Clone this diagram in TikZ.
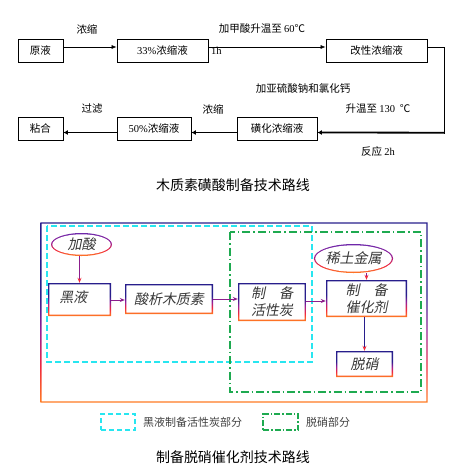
\documentclass[tikz,border=0pt]{standalone}
\usepackage{fontspec}
\setmainfont{Liberation Serif}
\newfontfamily\cjk{Noto Sans CJK SC}
\newfontfamily\cjki[FakeSlant=0.2]{Noto Sans CJK SC}
\usetikzlibrary{arrows.meta,shapes.geometric,calc}
\definecolor{nav}{RGB}{40,30,140}
\definecolor{mag}{RGB}{150,30,150}
\definecolor{org}{RGB}{255,125,35}
\definecolor{pur}{RGB}{110,40,170}
\definecolor{rd}{RGB}{240,40,60}
\definecolor{arrp}{RGB}{140,30,140}
\definecolor{cyn}{RGB}{40,230,240}
\definecolor{grn}{RGB}{30,170,80}
\definecolor{txt}{RGB}{55,55,55}
\pgfdeclareverticalshading{boxgrad}{100bp}{color(0bp)=(org); color(25bp)=(org); color(35bp)=(rd); color(45bp)=(mag); color(55bp)=(nav); color(100bp)=(nav)}
\pgfdeclareverticalshading{ellgrad}{100bp}{color(0bp)=(org); color(25bp)=(org); color(38bp)=(rd); color(55bp)=(mag); color(75bp)=(pur); color(100bp)=(pur)}
\tikzset{
  box/.style={draw,line width=0.8pt,minimum height=23pt,inner sep=0pt,font=\cjk\fontsize{10.5}{12}\selectfont},
  lab/.style={inner sep=0pt,font=\cjk\fontsize{10.5}{12}\selectfont},
  ttl/.style={inner sep=0pt,font=\cjk\fontsize{14}{16}\selectfont},
  tarr/.style={line width=0.6pt,-{Latex[length=5pt,width=4pt]}},
  barr/.style={line width=1.8pt,-{Latex[length=4.5pt,width=5pt]}},
  gframe/.style={path picture={\shade[shading=boxgrad,even odd rule]
    (path picture bounding box.south west) rectangle (path picture bounding box.north east)
    ([shift={(1.3pt,1.3pt)}]path picture bounding box.south west) rectangle ([shift={(-1.3pt,-1.3pt)}]path picture bounding box.north east);}},
  gbox/.style={rectangle,inner sep=0pt,align=center,text=txt,font=\cjki\fontsize{14}{17}\selectfont,gframe},
  gell/.style={ellipse,inner sep=0pt,text=txt,font=\cjki\fontsize{14}{17}\selectfont,path picture={
    \shade[shading=ellgrad] (path picture bounding box.south west) rectangle (path picture bounding box.north east);
    \path let \p1=(path picture bounding box.north east),\p2=(path picture bounding box.center) in
      [fill=white] (\p2) ellipse ({\x1-\x2-1.3pt} and {\y1-\y2-1.3pt});}},
  parr/.style={draw=arrp,line width=0.9pt,-{Stealth[length=5pt,width=4pt]}},
}
\begin{document}
\begin{tikzpicture}[x=1pt,y=-1pt]
\useasboundingbox (0,0) rectangle (455,475);
\node[box,minimum width=45pt] (yuan) at (40.5,50.5) {原液};
\node[box,minimum width=91pt] (n33) at (162.5,50.5) {{\rmfamily 33\%}浓缩液};
\node[box,minimum width=101pt] (gaix) at (376.5,50.5) {改性浓缩液};
\node[box,minimum width=80pt] (huang) at (277,128.5) {磺化浓缩液};
\node[box,minimum width=74pt] (n50) at (154,128.5) {{\rmfamily 50\%}浓缩液};
\node[box,minimum width=45pt] (nian) at (40.5,128.5) {粘合};
\coordinate (c1) at (444,47);
\coordinate (c2) at (444,132.7);
\draw[tarr] ([yshift=3.5pt]yuan.east) -- ([yshift=3.5pt]n33.west);
\draw[tarr] ([yshift=3.5pt]n33.east) -- ([yshift=3.5pt]gaix.west);
\draw[line width=0.9pt] ([yshift=3.5pt]gaix.east) -- (c1) -- ([yshift=-0.9pt]c2);
\draw[barr] (c2) -- ([yshift=-4pt]huang.east);
\draw[barr] ([yshift=-4pt]huang.west) -- ([yshift=-4pt]n50.east);
\draw[barr] ([yshift=-4pt]n50.west) -- ([yshift=-4pt]nian.east);
\node[lab] (l1) at (87,29) {浓缩};
\node[lab] (l2) at (262,29) {加甲酸升温至 {\rmfamily 60}℃};
\node[lab,anchor=west] (l3) at (211,51) {\rmfamily 1h};
\node[lab] (l4) at (303,88) {加亚硫酸钠和氯化钙};
\node[lab] (l5) at (378,109) {升温至 {\rmfamily 130}\ \ ℃};
\node[lab] (l6) at (378,151) {反应 {\rmfamily 2h}};
\node[lab] (l7) at (92,109) {过滤};
\node[lab] (l8) at (213,109) {浓缩};
\node[ttl] (t1) at (233,185) {木质素磺酸制备技术路线};

\shade[shading=boxgrad,even odd rule]
  (40.3,222.3) rectangle (427.7,402.7) (41.7,223.7) rectangle (426.3,401.3);
\draw[cyn,line width=1.3pt,dash pattern=on 6pt off 3pt] (47,226) rectangle (312,362);
\draw[grn,line width=1.3pt,dash pattern=on 8pt off 3pt on 1.5pt off 3pt] (230,232) rectangle (421,392);
\node[gell,minimum width=61pt,minimum height=23pt] (jias) at (81.5,244.5) {加酸};
\node[gbox,minimum width=63pt,minimum height=33pt] (heiy) at (79.5,299.5) {\raisebox{5pt}{黑液\hspace{12pt}}};
\node[gbox,minimum width=88pt,minimum height=30pt] (suanx) at (169,299) {酸析木质素};
\node[gbox,minimum width=68pt,minimum height=38pt] (huox) at (272,302) {制\quad 备\\活性炭};
\node[gell,minimum width=79pt,minimum height=29pt] (xitu) at (353.5,258.5) {稀土金属};
\node[gbox,minimum width=81pt,minimum height=37pt] (cuih) at (366.5,298.5) {制\quad 备\\催化剂};
\node[gbox,minimum width=57pt,minimum height=26pt] (tuox) at (364.5,364) {脱硝};
\draw[parr,-{Stealth[length=5pt,width=4pt,rd]}] (heiy.north |- jias.south) -- (heiy.north);
\draw[parr] ([yshift=-0.5pt]heiy.east) -- ([yshift=-0.5pt]heiy.east -| suanx.west);
\draw[parr] (suanx.east) -- (suanx.east -| huox.west);
\draw[parr] ([yshift=1pt]huox.east) -- ([yshift=1pt]huox.east -| cuih.west);
\draw[parr,-{Stealth[length=5pt,width=4pt,rd]}] (cuih.north |- xitu.south) -- (cuih.north);
\draw[parr,draw=nav,-{Stealth[length=5pt,width=4pt,rd]}] (tuox.north |- cuih.south) -- (tuox.north);

\node[draw=cyn,line width=1.3pt,dash pattern=on 5pt off 3pt,minimum width=34pt,minimum height=16pt,inner sep=0pt] (lg1) at (118,422) {};
\node[lab,anchor=west,text=black!75,font=\cjk\fontsize{11}{13}\selectfont] (lt1) at (143,422) {黑液制备活性炭部分};
\node[draw=grn,line width=1.3pt,dash pattern=on 6pt off 2pt on 1.5pt off 2pt,minimum width=35pt,minimum height=16pt,inner sep=0pt] (lg2) at (280.5,422) {};
\node[lab,anchor=west,text=black!75,font=\cjk\fontsize{11}{13}\selectfont] (lt2) at (306,422) {脱硝部分};
\node[ttl] (t2) at (233,457) {制备脱硝催化剂技术路线};
\end{tikzpicture}
\end{document}
